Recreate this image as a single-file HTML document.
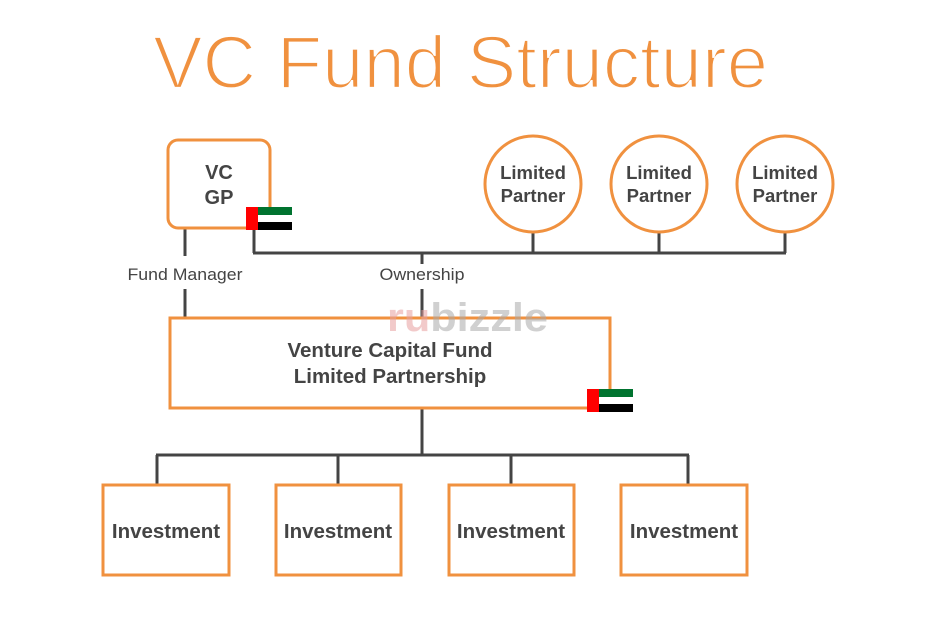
<!DOCTYPE html>
<html><head><meta charset="utf-8"><style>
html,body{margin:0;padding:0;background:#fff;}
svg{display:block;font-family:"Liberation Sans",sans-serif;}
</style></head><body>
<svg width="936" height="628" viewBox="0 0 936 628" xmlns="http://www.w3.org/2000/svg">
<rect width="936" height="628" fill="#fff"/>
<text x="153" y="88" font-size="74" fill="#F0913F" stroke="#fff" stroke-width="2.2" paint-order="normal" textLength="615" lengthAdjust="spacingAndGlyphs">VC Fund Structure</text>

<g stroke="#444" stroke-width="3" fill="none">
<line x1="185" y1="229" x2="185" y2="256"/>
<line x1="185" y1="289" x2="185" y2="317"/>
<line x1="254" y1="229" x2="254" y2="253"/>
<line x1="253" y1="253" x2="786" y2="253"/>
<line x1="533" y1="232" x2="533" y2="253"/>
<line x1="659" y1="232" x2="659" y2="253"/>
<line x1="785" y1="232" x2="785" y2="253"/>
<line x1="422" y1="253" x2="422" y2="264"/>
<line x1="422" y1="289" x2="422" y2="317"/>
<line x1="422" y1="408" x2="422" y2="455"/>
<line x1="156" y1="455" x2="689" y2="455"/>
<line x1="157" y1="455" x2="157" y2="485"/>
<line x1="338" y1="455" x2="338" y2="485"/>
<line x1="511" y1="455" x2="511" y2="485"/>
<line x1="688" y1="455" x2="688" y2="485"/>
</g>

<g stroke="#F0913F" stroke-width="3" fill="#fff">
<rect x="168" y="140" width="102" height="88" rx="10"/>
<circle cx="533" cy="184" r="48"/>
<circle cx="659" cy="184" r="48"/>
<circle cx="785" cy="184" r="48"/>
<rect x="170" y="318" width="440" height="90"/>
<rect x="103" y="485" width="126" height="90"/>
<rect x="276" y="485" width="125" height="90"/>
<rect x="449" y="485" width="125" height="90"/>
<rect x="621" y="485" width="126" height="90"/>
</g>

<g font-size="20" fill="#444" text-anchor="middle" font-weight="bold">
<text x="219" y="179">VC</text>
<text x="219" y="204">GP</text>
<text x="533" y="179" font-size="18.5">Limited</text>
<text x="533" y="202" font-size="18.5">Partner</text>
<text x="659" y="179" font-size="18.5">Limited</text>
<text x="659" y="202" font-size="18.5">Partner</text>
<text x="785" y="179" font-size="18.5">Limited</text>
<text x="785" y="202" font-size="18.5">Partner</text>
<text x="390" y="357" font-size="20.5">Venture Capital Fund</text>
<text x="390" y="383" font-size="20.5">Limited Partnership</text>
<text x="166" y="538" font-size="20.5">Investment</text>
<text x="338" y="538" font-size="20.5">Investment</text>
<text x="511" y="538" font-size="20.5">Investment</text>
<text x="684" y="538" font-size="20.5">Investment</text>
</g>
<g font-size="16.5" fill="#444" text-anchor="middle">
<text x="185" y="280" textLength="115" lengthAdjust="spacingAndGlyphs">Fund Manager</text>
<text x="422" y="280" textLength="85" lengthAdjust="spacingAndGlyphs">Ownership</text>
</g>

<text x="387" y="331" font-size="40" font-weight="bold" fill="#e8a0a0" opacity="0.55" textLength="161" lengthAdjust="spacingAndGlyphs">ru<tspan fill="#aaa">bizzle</tspan></text>

<g>
<rect x="246" y="207" width="12" height="23" fill="#f00"/>
<rect x="258" y="207" width="34" height="8" fill="#00732f"/>
<rect x="258" y="215" width="34" height="7" fill="#fff"/>
<rect x="258" y="222" width="34" height="8" fill="#000"/>
<rect x="587" y="389" width="12" height="23" fill="#f00"/>
<rect x="599" y="389" width="34" height="8" fill="#00732f"/>
<rect x="599" y="397" width="34" height="7" fill="#fff"/>
<rect x="599" y="404" width="34" height="8" fill="#000"/>
</g>
</svg>
</body></html>
